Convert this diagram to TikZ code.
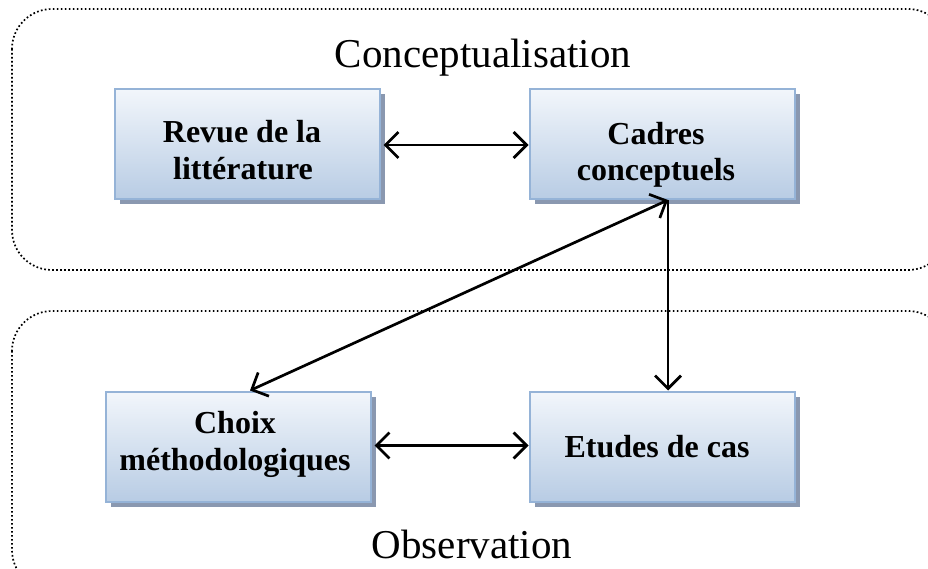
\documentclass[tikz,border=0pt]{standalone}
\usepackage{fontspec}
\setmainfont{Liberation Serif}
\usetikzlibrary{shadows,arrows.meta,calc}
\definecolor{boxtop}{RGB}{242,246,251}
\definecolor{boxbot}{RGB}{184,204,228}
\definecolor{boxline}{RGB}{149,179,215}
\definecolor{shadowc}{RGB}{138,152,176}
\tikzset{
  stage/.style={draw=boxline, line width=2pt, top color=boxtop, bottom color=boxbot,
    minimum width=265pt, minimum height=110pt, inner sep=0pt,
    drop shadow={shadow xshift=5pt, shadow yshift=-5pt, fill=shadowc, opacity=1}},
  stagetext/.style={anchor=base, inner sep=0pt, font=\fontsize{32}{36}\selectfont\bfseries},
  zone/.style={line width=1.7pt, dash pattern=on 1.7pt off 2.3pt, rounded corners=40pt},
  link/.style={line width=2.7pt, {Straight Barb[length=13pt,width=26pt,line width=2.7pt]}-{Straight Barb[length=13pt,width=26pt,line width=2.7pt]}},
  onelink/.style={line width=2.7pt, -{Straight Barb[length=13pt,width=26pt,line width=2.7pt]}},
  title/.style={font=\fontsize{41}{49}\selectfont, anchor=base}
}
\begin{document}
\begin{tikzpicture}[x=1pt,y=-1pt]
\useasboundingbox (0,0) rectangle (928,569);
\draw[zone] (12,9) rectangle (948,270);
\draw[zone] (12,311) rectangle (948,590);
\node[title] (t1) at (483,68) {Conceptualisation};
\node[title] (t2) at (472,558) {Observation};
\node[stage] (revue) at (247,144) {};
\node[stage] (cadres) at (662,144) {};
\node[stage] (choix) at (238,446.5) {};
\node[stage] (etudes) at (662,446.5) {};
\node[stagetext] (revue1) at (242,143) {Revue de la};
\node[stagetext] (revue2) at (243,180) {littérature};
\node[stagetext] (cadres1) at (656,145) {Cadres};
\node[stagetext] (cadres2) at (656,181) {conceptuels};
\node[stagetext] (choix1) at (235,433) {Choix};
\node[stagetext] (choix2) at (235,470) {méthodologiques};
\node[stagetext] (etudes1) at (657,457) {Etudes de cas};
\coordinate (cb) at ($(cadres.south)+(6,0)$);
\coordinate (ct) at ($(choix.north)+(12,0)$);
\coordinate (et) at (etudes.north -| cb);
\draw[link] ($(revue.east)+(3,1)$) -- ($(cadres.west)+(0,1)$);
\draw[link] ($(choix.east)+(3,-1)$) -- ($(etudes.west)+(0,-1)$);
\draw[link] (ct) -- (cb);
\draw[onelink] (cb) -- (et);
\end{tikzpicture}
\end{document}
